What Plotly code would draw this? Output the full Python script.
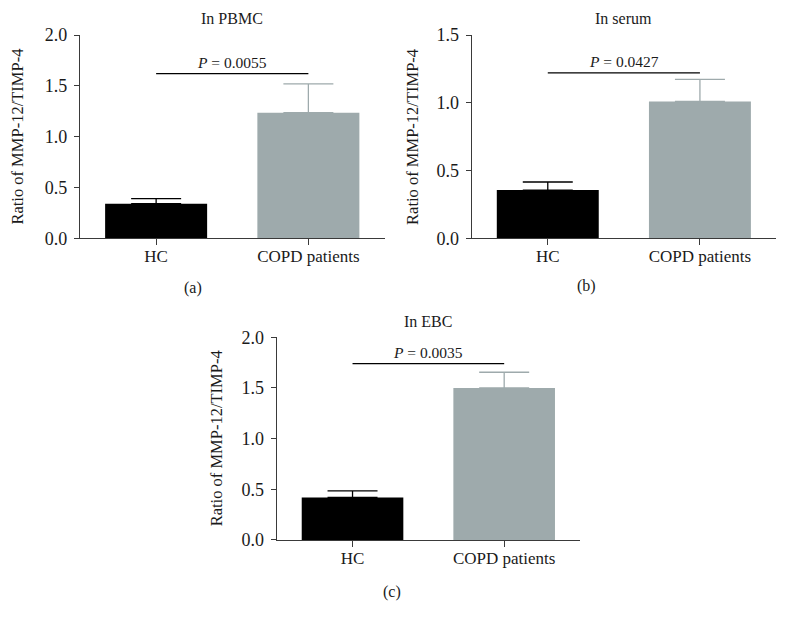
import plotly.graph_objects as go

categories = ["HC", "COPD patients"]
panel_titles = ["In PBMC", "In serum", "In EBC"]
panel_labels = ["(a)", "(b)", "(c)"]

pbmc_mean = [0.34, 1.235]
pbmc_err = [0.05, 0.285]
serum_mean = [0.355, 1.01]
serum_err = [0.06, 0.163]
ebc_mean = [0.42, 1.50]
ebc_err = [0.065, 0.155]

p_text = ["0.0055", "0.0427", "0.0035"]
sig_y = [1.62, 1.22, 1.74]

y_max = [2.0, 1.5, 2.0]
y_dtick = [0.5, 0.5, 0.5]

means = [pbmc_mean, serum_mean, ebc_mean]
errs = [pbmc_err, serum_err, ebc_err]

bar_colors = ["#000000", "#9eaaac"]
err_colors = ["#000000", "#9eaaac"]

W, H = 787, 623
# target screen-pixel layout of the three panels: (left, right, top, bottom)
boxes = [(80, 384.5, 33, 236), (471.7, 776, 33, 236), (276.7, 580, 335, 537.5)]
ytitle_x = [18, 412.3, 216.7]
label_pos = [(193, 286), (586, 284), (392, 589)]
title_y = [16.5, 16.5, 319]

# the photographed page maps layout y to screen y as  8 + 0.967 * y
VA, VS = 8.0, 0.967


def px(x):
    return x / W


def py(y):
    return 1 - ((y - VA) / VS) / H


FONT = "Liberation Serif, Times New Roman, serif"
AX = "#3a3a3a"
TXT = "#1a1a1a"

fig = go.Figure()
annotations = []
for k in range(3):
    xa = "x" if k == 0 else f"x{k+1}"
    ya = "y" if k == 0 else f"y{k+1}"
    for i, c in enumerate(categories):
        fig.add_trace(go.Bar(
            x=[c], y=[means[k][i]], xaxis=xa, yaxis=ya, width=0.67,
            marker=dict(color=bar_colors[i], line=dict(width=0)),
            error_y=dict(type="data", array=[errs[k][i]], arrayminus=[0], symmetric=False,
                         color=err_colors[i], thickness=1.3, width=25),
            showlegend=False, hoverinfo="skip"))
    fig.add_trace(go.Scatter(
        x=categories, y=[sig_y[k], sig_y[k]], xaxis=xa, yaxis=ya, mode="lines",
        line=dict(color="#000000", width=1.3), showlegend=False, hoverinfo="skip"))
    l, r, t, b = boxes[k]
    xd = [px(l), px(r)]
    yd = [py(b), py(t)]
    axx = dict(domain=xd, type="category", categoryorder="array", categoryarray=categories,
               range=[-0.5, 1.5], showline=True, linecolor=AX, linewidth=1.3,
               ticks="outside", ticklen=6, tickwidth=1.3, tickcolor=AX, showgrid=False,
               zeroline=False, anchor=ya, ticklabelstandoff=-4,
               tickfont=dict(family=FONT, size=17, color=TXT))
    axy = dict(domain=yd, range=[0, y_max[k]], dtick=y_dtick[k], tickformat=".1f",
               showline=True, linecolor=AX, linewidth=1.3, ticks="outside", ticklen=5,
               tickwidth=1.3, tickcolor=AX, showgrid=False, zeroline=False, anchor=xa,
               ticklabelstandoff=3,
               tickfont=dict(family=FONT, size=18, color=TXT))
    fig.update_layout({("xaxis" if k == 0 else f"xaxis{k+1}"): axx,
                       ("yaxis" if k == 0 else f"yaxis{k+1}"): axy})
    # P-value text
    annotations.append(dict(x=0.5, y=sig_y[k], xref=xa, yref=ya, text=f"<i>P</i> = {p_text[k]}",
                            showarrow=False, xanchor="center", yanchor="bottom", yshift=1,
                            font=dict(family=FONT, size=15.5, color=TXT)))
    # panel title
    annotations.append(dict(x=(px(l) + px(r)) / 2, y=py(title_y[k]), xref="paper", yref="paper",
                            text=panel_titles[k], showarrow=False, xanchor="center",
                            yanchor="middle",
                            font=dict(family=FONT, size=16, color=TXT)))
    # y-axis title
    annotations.append(dict(x=px(ytitle_x[k]), y=py((t + b) / 2), xref="paper", yref="paper",
                            text="Ratio of MMP-12/TIMP-4", textangle=-90, showarrow=False,
                            xanchor="center", yanchor="middle",
                            font=dict(family=FONT, size=16.5, color=TXT)))
    # panel label
    annotations.append(dict(x=px(label_pos[k][0]), y=py(label_pos[k][1]), xref="paper",
                            yref="paper", text=panel_labels[k], showarrow=False,
                            xanchor="center", yanchor="middle",
                            font=dict(family=FONT, size=16, color=TXT)))

fig.update_layout(width=W, height=H, margin=dict(l=0, r=0, t=0, b=0),
                  paper_bgcolor="white", plot_bgcolor="white", barmode="overlay",
                  annotations=annotations)
fig.write_html("out.html", config={"displayModeBar": False},
               post_script="document.body.style.margin='0';document.body.style.padding='0';")
